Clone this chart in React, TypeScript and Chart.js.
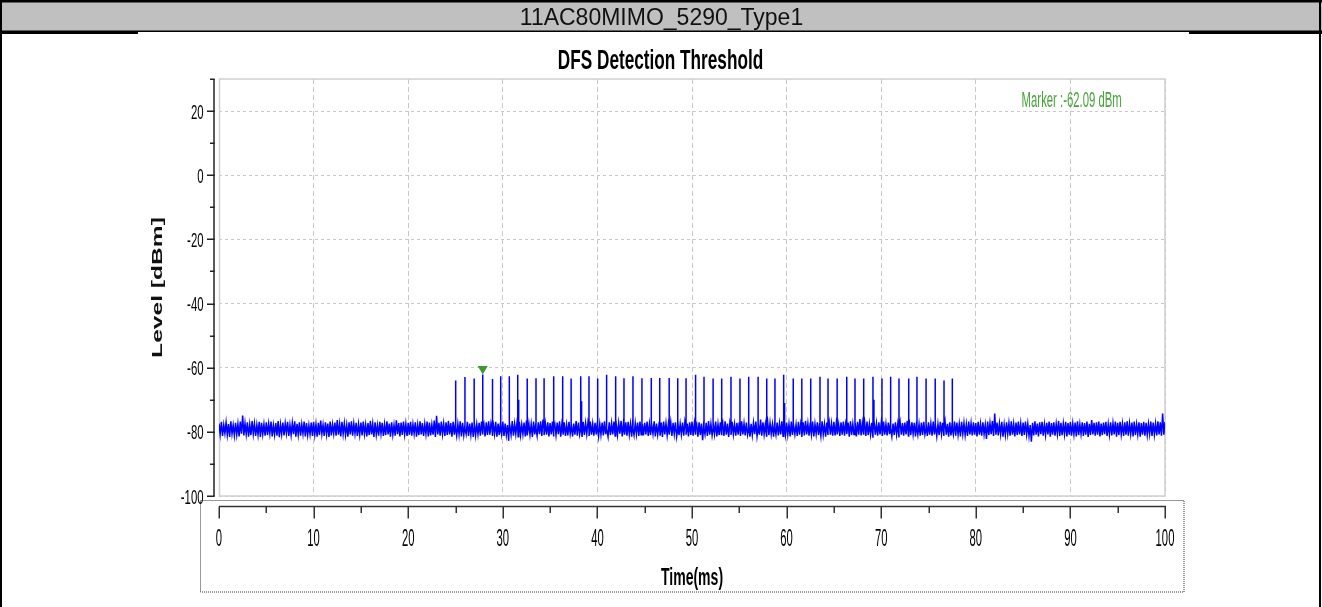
import React, { useEffect, useRef } from "react";
import { Chart, registerables } from "chart.js";

Chart.register(...registerables);

const W = 1322;
const H = 607;

const PAGE_TITLE = "11AC80MIMO_5290_Type1";
const CHART_TITLE = "DFS Detection Threshold";
const X_TITLE = "Time(ms)";
const Y_TITLE = "Level [dBm]";

const X_TICKS = [0, 10, 20, 30, 40, 50, 60, 70, 80, 90, 100];
const X_MINOR = [5, 15, 25, 35, 45, 55, 65, 75, 85, 95];
const Y_TICKS = [-100, -80, -60, -40, -20, 0, 20];
const Y_MINOR = [-90, -70, -50, -30, -10, 10, 30];
const Y_MIN = -100;
const Y_MAX = 30;

// noise floor: per 0.25 ms bin, the highest and lowest sample (dBm), 0 .. 100 ms
const BIN_MS = 0.25;
const NOISE_HI = [
  -77.4, -76.9, -77.8, -77.1, -77.6, -76.7, -77.9, -77.2, -77.5, -76.8, -74.9, -77.3, -77.0, -77.7, -76.6, -77.4, -77.8, -76.9, -77.2, -77.6,
  -77.0, -77.5, -76.8, -77.9, -77.3, -76.6, -77.7, -77.1, -77.4, -76.9, -77.8, -77.2, -76.7, -77.5, -77.0, -77.6, -76.8, -77.3, -77.9, -77.1,
  -76.9, -77.6, -77.2, -76.5, -77.8, -77.0, -77.4, -76.8, -77.7, -77.1, -76.3, -77.5, -76.9, -77.3, -77.8, -77.0, -76.7, -77.4, -77.2, -77.6,
  -77.1, -76.8, -77.7, -77.3, -76.6, -77.5, -77.0, -77.9, -76.9, -77.2, -77.6, -76.7, -77.4, -77.0, -77.8, -76.4, -77.3, -77.1, -76.8, -77.5,
  -77.2, -76.9, -77.6, -77.0, -77.8, -76.7, -77.3, -77.5, -76.8, -77.1, -77.7, -76.5, -75.0, -77.2, -76.8, -77.4, -77.0, -76.6, -77.3, -76.9,
  -77.0, -77.5, -76.7, -77.2, -77.8, -76.9, -77.4, -77.1, -76.6, -77.6, -77.2, -76.8, -77.5, -77.0, -76.7, -77.3, -77.7, -76.9, -77.4, -77.1,
  -76.8, -77.4, -77.9, -77.0, -76.6, -77.5, -77.2, -76.9, -77.7, -77.1, -76.5, -77.3, -77.6, -76.8, -77.2, -77.0, -76.7, -76.2, -77.4, -77.0,
  -77.3, -76.8, -77.6, -77.1, -76.7, -77.5, -77.0, -77.8, -76.9, -77.2, -77.4, -76.6, -77.1, -77.7, -76.9, -77.3, -77.0, -76.8, -77.5, -77.2,
  -76.9, -77.5, -77.1, -76.7, -77.6, -77.0, -77.3, -76.8, -77.8, -77.2, -76.6, -77.4, -77.0, -76.9, -77.5, -76.1, -77.3, -77.1, -76.8, -77.6,
  -77.2, -76.8, -77.5, -77.0, -76.7, -77.4, -77.9, -77.1, -76.8, -77.3, -77.6, -76.9, -77.2, -77.0, -76.6, -77.5, -77.1, -76.8, -77.4, -77.0,
  -76.8, -77.3, -77.7, -77.0, -77.4, -76.9, -77.2, -76.6, -77.5, -77.1, -76.8, -77.6, -77.0, -77.3, -76.7, -77.4, -77.1, -76.9, -77.6, -77.2,
  -77.0, -76.7, -77.4, -77.1, -76.9, -77.5, -77.2, -76.8, -77.3, -76.2, -77.0, -77.6, -76.9, -77.2, -77.7, -76.8, -77.1, -77.4, -76.7, -77.3,
  -77.1, -77.5, -76.8, -77.2, -77.7, -76.9, -77.3, -77.0, -76.6, -77.4, -77.1, -76.8, -77.5, -77.0, -77.3, -76.7, -77.6, -77.1, -76.9, -77.4,
  -76.9, -77.3, -77.6, -77.0, -76.8, -77.4, -77.1, -76.7, -77.5, -77.2, -76.9, -76.0, -77.3, -77.0, -76.8, -77.5, -77.2, -76.9, -77.4, -77.0,
  -77.2, -76.8, -77.5, -77.1, -76.7, -77.4, -77.0, -77.6, -76.9, -77.3, -77.1, -76.6, -77.5, -77.0, -77.2, -76.8, -77.6, -77.1, -76.9, -77.4,
  -77.0, -77.4, -76.8, -77.3, -77.6, -76.9, -77.2, -76.7, -77.5, -77.0, -77.3, -76.8, -77.1, -77.5, -76.9, -77.2, -77.6, -76.8, -77.3, -77.0,
  -77.3, -76.9, -77.5, -77.0, -77.8, -76.8, -77.2, -76.6, -74.3, -77.1, -77.4, -76.9, -77.7, -77.0, -77.3, -76.7, -77.5, -77.1, -76.8, -77.4,
  -77.1, -76.8, -77.5, -77.9, -77.2, -76.7, -77.4, -77.0, -76.9, -77.6, -77.2, -76.8, -77.3, -77.0, -77.5, -76.6, -77.2, -77.4, -76.9, -77.3,
  -76.9, -77.4, -77.1, -76.7, -77.6, -77.0, -77.3, -76.8, -77.5, -76.3, -77.2, -77.0, -76.8, -77.4, -77.1, -76.9, -77.6, -77.0, -77.3, -76.8,
  -77.2, -76.9, -77.5, -77.0, -76.7, -77.4, -77.1, -76.8, -77.6, -77.0, -77.3, -76.9, -77.2, -77.5, -76.8, -77.1, -77.4, -76.7, -77.0, -74.3,
  -76.9,
];
const NOISE_LO = [
  -80.8, -81.3, -80.5, -81.0, -81.6, -80.7, -81.2, -80.9, -81.4, -80.6, -81.1, -80.8, -81.5, -81.0, -80.7, -81.3, -80.9, -81.6, -80.8, -81.2,
  -81.0, -80.6, -81.4, -80.9, -81.2, -81.7, -80.8, -81.1, -80.5, -81.3, -81.0, -80.7, -81.5, -80.9, -81.2, -80.6, -81.4, -81.0, -80.8, -81.3,
  -80.9, -81.5, -81.0, -80.7, -81.3, -80.8, -81.6, -81.1, -80.6, -81.2, -80.9, -81.4, -80.7, -81.0, -81.5, -80.8, -81.2, -80.6, -81.3, -80.9,
  -81.1, -80.7, -81.4, -81.0, -80.8, -81.6, -80.9, -81.2, -80.6, -81.3, -81.0, -80.8, -81.5, -80.9, -81.2, -80.7, -81.4, -81.0, -80.8, -81.3,
  -80.9, -81.2, -80.6, -81.5, -81.0, -80.8, -81.3, -80.7, -81.4, -81.1, -80.9, -81.6, -80.8, -81.2, -80.7, -81.3, -81.0, -80.8, -81.5, -80.9,
  -81.2, -80.8, -81.4, -81.0, -80.7, -81.3, -80.9, -81.6, -81.1, -80.8, -81.2, -80.6, -81.4, -81.0, -80.9, -81.3, -80.7, -81.5, -81.0, -80.8,
  -81.3, -81.0, -82.8, -80.9, -81.2, -80.7, -81.5, -81.0, -80.8, -81.4, -81.1, -80.9, -81.6, -80.8, -81.2, -80.7, -81.3, -81.0, -80.9, -81.4,
  -80.8, -81.2, -81.0, -80.7, -81.5, -80.9, -81.3, -81.1, -80.6, -81.4, -80.9, -81.2, -80.8, -81.6, -81.0, -80.7, -81.3, -80.9, -81.2, -80.8,
  -81.4, -80.9, -81.1, -80.7, -81.5, -81.0, -80.8, -81.3, -81.0, -80.6, -81.4, -80.9, -81.2, -80.8, -81.5, -81.0, -80.7, -81.3, -80.9, -81.1,
  -80.8, -81.3, -81.0, -80.7, -81.4, -80.9, -81.2, -81.6, -80.8, -81.1, -80.9, -81.3, -80.7, -81.5, -81.0, -80.8, -81.2, -80.9, -81.4, -81.0,
  -81.2, -80.9, -81.5, -81.0, -82.6, -80.8, -81.3, -80.9, -81.1, -80.7, -81.4, -81.0, -80.8, -81.3, -80.9, -81.6, -81.0, -80.8, -81.2, -80.9,
  -81.3, -80.8, -81.1, -80.9, -81.5, -81.0, -80.7, -81.4, -80.9, -81.2, -80.8, -81.3, -81.0, -80.7, -81.5, -80.9, -81.1, -80.8, -81.4, -81.0,
  -80.9, -81.4, -81.0, -80.8, -81.3, -80.9, -81.6, -81.1, -80.8, -81.2, -80.9, -81.4, -80.7, -81.0, -81.3, -80.8, -81.5, -81.0, -80.9, -81.2,
  -81.1, -80.8, -81.3, -80.9, -81.2, -80.7, -81.5, -81.0, -80.8, -81.4, -80.9, -81.1, -80.7, -81.3, -81.0, -80.8, -81.6, -80.9, -81.2, -80.8,
  -81.3, -80.9, -81.1, -80.7, -81.4, -81.0, -80.8, -81.5, -80.9, -81.2, -80.8, -81.3, -81.0, -80.7, -81.4, -80.9, -81.2, -81.0, -80.8, -81.3,
  -80.9, -81.2, -80.8, -81.4, -81.0, -80.7, -81.3, -80.9, -81.5, -81.1, -80.8, -81.2, -80.9, -81.4, -80.7, -81.0, -81.3, -80.8, -81.1, -80.9,
  -81.4, -80.9, -81.2, -80.8, -82.2, -81.0, -80.7, -81.3, -80.9, -81.1, -80.8, -81.5, -81.0, -80.7, -81.2, -80.9, -81.4, -81.0, -80.8, -81.3,
  -81.0, -80.8, -81.3, -83.1, -81.1, -80.9, -81.4, -80.7, -81.2, -81.0, -80.8, -81.5, -80.9, -81.2, -80.7, -81.3, -81.0, -80.8, -81.4, -80.9,
  -81.2, -80.8, -81.4, -81.0, -80.7, -81.3, -80.9, -81.6, -81.0, -80.8, -81.2, -80.9, -81.4, -81.0, -80.7, -81.3, -80.9, -81.1, -80.8, -81.5,
  -81.0, -80.8, -81.3, -80.9, -81.2, -80.7, -81.4, -81.0, -80.8, -81.5, -80.9, -81.2, -81.0, -80.7, -81.3, -80.9, -81.1, -80.8, -81.2, -80.9,
  -81.0,
];

// radar burst pulses (ms) and their peak levels (dBm)
const PULSE_TIMES = [
  25.02, 26.0, 26.96, 27.88, 28.86, 29.78, 30.66, 31.58, 32.56, 33.51,
  34.36, 35.38, 36.33, 37.21, 38.23, 39.11, 40.03, 40.91, 41.93, 42.81,
  43.76, 44.71, 45.67, 46.59, 47.57, 48.49, 49.37, 50.32, 51.27, 52.22,
  53.14, 54.12, 55.07, 55.99, 56.98, 57.9, 58.77, 59.69, 60.68, 61.6,
  62.55, 63.53, 64.38, 65.33, 66.35, 67.23, 68.15, 69.13, 70.08, 71.0,
  71.88, 72.91, 73.78, 74.74, 75.69, 76.64, 77.52,
];
const PULSE_PEAKS = [
  -64.0, -62.9, -63.4, -62.09, -63.5, -62.7, -62.7, -62.2, -63.4, -63.3,
  -63.3, -62.7, -62.7, -63.4, -62.7, -62.7, -63.4, -62.2, -62.7, -63.3,
  -62.7, -63.3, -63.2, -63.2, -63.2, -63.3, -63.3, -62.2, -62.8, -63.4,
  -63.4, -62.8, -63.4, -62.8, -62.8, -63.4, -63.4, -62.2, -63.4, -63.4,
  -63.4, -62.8, -63.4, -63.4, -62.8, -63.4, -63.4, -62.8, -63.4, -62.8,
  -63.4, -63.4, -62.8, -63.4, -63.4, -64.0, -63.4,
];
const PULSE_BASE = -79.0;
// pulses showing a second, shorter sample right after the peak
const SHOULDER_PULSES = [4, 7, 14, 17, 27, 37, 47];
const SHOULDER_LEVELS = [-70.5, -70.0, -70.5, -70.5, -70.0, -71.0, -70.0];
const SHOULDER_OFFSET_MS = 0.1;

const MARKER_T = 27.88;
const MARKER_LEVEL = -62.09;

const FONT = '"Liberation Sans", Arial, Helvetica, sans-serif';

function squeezedText(
  ctx: CanvasRenderingContext2D,
  text: string,
  x: number,
  y: number,
  font: string,
  sx: number,
  align: CanvasTextAlign,
  color: string
) {
  ctx.save();
  ctx.font = font;
  ctx.fillStyle = color;
  ctx.textAlign = align;
  ctx.textBaseline = "alphabetic";
  ctx.translate(x, y);
  ctx.scale(sx, 1);
  ctx.fillText(text, 0, 0);
  ctx.restore();
}

const framePlugin = {
  id: "dfsFrame",
  beforeDraw(chart: any) {
    const ctx: CanvasRenderingContext2D = chart.ctx;
    ctx.save();
    ctx.fillStyle = "#ffffff";
    ctx.fillRect(0, 0, W, H);
    // header band
    ctx.fillStyle = "#c0c0c0";
    ctx.fillRect(0, 2, W, 29);
    ctx.fillStyle = "#000000";
    ctx.fillRect(0, 0, W, 2.5);
    ctx.fillRect(0, 30.5, W, 1.5);
    ctx.fillRect(0, 32, 138, 2);
    ctx.fillRect(1189, 32, W - 1189, 2);
    ctx.fillRect(0, 0, 2, H);
    ctx.fillRect(1319, 0, 2, H);
    ctx.font = `23px ${FONT}`;
    ctx.fillStyle = "#111111";
    ctx.textAlign = "center";
    ctx.textBaseline = "alphabetic";
    ctx.fillText(PAGE_TITLE, 661.5, 25);
    ctx.restore();
  },
  beforeDatasetsDraw(chart: any) {
    const ctx: CanvasRenderingContext2D = chart.ctx;
    const ca = chart.chartArea;
    ctx.save();
    ctx.strokeStyle = "#d0d0d0";
    ctx.lineWidth = 1.5;
    ctx.strokeRect(ca.left + 0.5, ca.top, ca.right - ca.left - 0.5, ca.bottom - ca.top);
    ctx.restore();
  },
  afterDraw(chart: any) {
    const ctx: CanvasRenderingContext2D = chart.ctx;
    const ca = chart.chartArea;
    const xs = chart.scales.x;
    const ys = chart.scales.y;
    ctx.save();

    // dotted box around the time axis
    ctx.strokeStyle = "#333333";
    ctx.lineWidth = 1;
    ctx.setLineDash([1, 1]);
    ctx.strokeRect(ca.left - 18.5, ca.bottom + 4.5, ca.right - ca.left + 37.5, 91.5);
    ctx.setLineDash([]);

    // level axis line and ticks
    const axX = ca.left - 5;
    ctx.strokeStyle = "#222222";
    ctx.lineWidth = 1.5;
    ctx.beginPath();
    ctx.moveTo(axX, ca.top);
    ctx.lineTo(axX, ca.bottom);
    ctx.stroke();
    ctx.beginPath();
    ys.ticks.forEach((t: any) => {
      const py = Math.round(ys.getPixelForValue(t.value)) + 0.25;
      ctx.moveTo(axX - 7, py);
      ctx.lineTo(axX + 0.75, py);
    });
    Y_MINOR.forEach((v) => {
      const py = Math.round(ys.getPixelForValue(v)) + 0.25;
      ctx.moveTo(axX - 4, py);
      ctx.lineTo(axX + 0.75, py);
    });
    ctx.stroke();

    // time axis line and ticks
    const axY = ca.bottom + 10.5;
    ctx.strokeStyle = "#333333";
    ctx.lineWidth = 1.5;
    ctx.beginPath();
    ctx.moveTo(xs.getPixelForValue(X_TICKS[0]), axY);
    ctx.lineTo(xs.getPixelForValue(X_TICKS[X_TICKS.length - 1]) + 1, axY);
    ctx.stroke();
    ctx.beginPath();
    xs.ticks.forEach((t: any) => {
      const px = Math.round(xs.getPixelForValue(t.value)) + 0.25;
      ctx.moveTo(px, axY);
      ctx.lineTo(px, axY + 12);
    });
    X_MINOR.forEach((v) => {
      const px = Math.round(xs.getPixelForValue(v)) + 0.25;
      ctx.moveTo(px, axY);
      ctx.lineTo(px, axY + 6.5);
    });
    ctx.stroke();

    // tick labels
    ys.ticks.forEach((t: any) => {
      const py = ys.getPixelForValue(t.value);
      squeezedText(ctx, String(t.value), ca.left - 15.5, py + 7.5, `21px ${FONT}`, 0.54, "right", "#000000");
    });
    xs.ticks.forEach((t: any) => {
      const px = xs.getPixelForValue(t.value);
      squeezedText(ctx, String(t.value), px, ca.bottom + 50, `24.5px ${FONT}`, 0.46, "center", "#000000");
    });

    // titles
    squeezedText(ctx, CHART_TITLE, 660.5, 68.5, `bold 28px ${FONT}`, 0.614, "center", "#000000");
    squeezedText(ctx, X_TITLE, (ca.left + ca.right) / 2, 585, `bold 23px ${FONT}`, 0.61, "center", "#000000");

    ctx.save();
    ctx.translate(162, (ca.top + ca.bottom) / 2);
    ctx.rotate(-Math.PI / 2);
    ctx.scale(1, 0.575);
    ctx.font = `bold 24.6px ${FONT}`;
    ctx.fillStyle = "#111111";
    ctx.textAlign = "center";
    ctx.textBaseline = "alphabetic";
    ctx.fillText(Y_TITLE, 0, 0);
    ctx.restore();

    // marker
    const mx = xs.getPixelForValue(MARKER_T);
    const my = ys.getPixelForValue(MARKER_LEVEL);
    ctx.fillStyle = "#3d9a2e";
    ctx.beginPath();
    ctx.moveTo(mx - 5, my - 8.5);
    ctx.lineTo(mx + 5, my - 8.5);
    ctx.lineTo(mx, my);
    ctx.closePath();
    ctx.fill();
    squeezedText(
      ctx,
      `Marker :${MARKER_LEVEL.toFixed(2)} dBm`,
      1071.7,
      107.3,
      `21.4px ${FONT}`,
      0.53,
      "center",
      "#48a23a"
    );

    ctx.restore();
  },
};

function buildTrace() {
  const pts: { x: number; y: number }[] = [];
  NOISE_HI.forEach((v, i) => {
    pts.push({ x: i * BIN_MS, y: v });
    pts.push({ x: i * BIN_MS + BIN_MS / 2, y: NOISE_LO[i] });
  });
  PULSE_TIMES.forEach((t, i) => {
    pts.push({ x: t, y: PULSE_BASE }, { x: t, y: PULSE_PEAKS[i] }, { x: t, y: PULSE_BASE });
  });
  SHOULDER_PULSES.forEach((p, j) => {
    const t = PULSE_TIMES[p] + SHOULDER_OFFSET_MS;
    pts.push({ x: t, y: PULSE_BASE }, { x: t, y: SHOULDER_LEVELS[j] }, { x: t, y: PULSE_BASE });
  });
  return pts
    .filter((p) => p.x <= X_TICKS[X_TICKS.length - 1])
    .map((p, i) => ({ p, i }))
    .sort((a, b) => a.p.x - b.p.x || a.i - b.i)
    .map((o) => o.p);
}

export default function App() {
  const ref = useRef<HTMLCanvasElement | null>(null);

  useEffect(() => {
    if (!ref.current) return;
    const chart = new Chart(ref.current, {
      type: "line",
      data: {
        datasets: [
          {
            label: "Level",
            data: buildTrace(),
            borderColor: "#0000ff",
            borderWidth: 1.5,
            pointRadius: 0,
            tension: 0,
            fill: false,
          },
        ],
      },
      options: {
        animation: false,
        responsive: false,
        devicePixelRatio: 1,
        events: [],
        layout: { padding: { left: 150, right: 157, top: 79, bottom: 0 } },
        plugins: {
          legend: { display: false },
          title: { display: false },
          tooltip: { enabled: false },
        },
        scales: {
          x: {
            type: "linear",
            min: X_TICKS[0],
            max: X_TICKS[X_TICKS.length - 1],
            afterBuildTicks: (s: any) => {
              s.ticks = X_TICKS.map((v) => ({ value: v }));
            },
            afterFit: (s: any) => {
              s.height = 111;
            },
            ticks: { display: false },
            grid: { color: "#c8c8c8", lineWidth: 1, drawTicks: false },
            border: { display: false, dash: [5, 3] },
          },
          y: {
            type: "linear",
            min: Y_MIN,
            max: Y_MAX,
            afterBuildTicks: (s: any) => {
              s.ticks = Y_TICKS.map((v) => ({ value: v }));
            },
            afterFit: (s: any) => {
              s.width = 69;
            },
            ticks: { display: false },
            grid: { color: "#c8c8c8", lineWidth: 1, drawTicks: false },
            border: { display: false, dash: [3, 3] },
          },
        },
      },
      plugins: [framePlugin],
    } as any);
    return () => chart.destroy();
  }, []);

  return (
    <div style={{ position: "absolute", left: 0, top: 0, width: W, height: H, background: "#fff" }}>
      <canvas ref={ref} width={W} height={H} style={{ width: W, height: H, display: "block" }} />
    </div>
  );
}
